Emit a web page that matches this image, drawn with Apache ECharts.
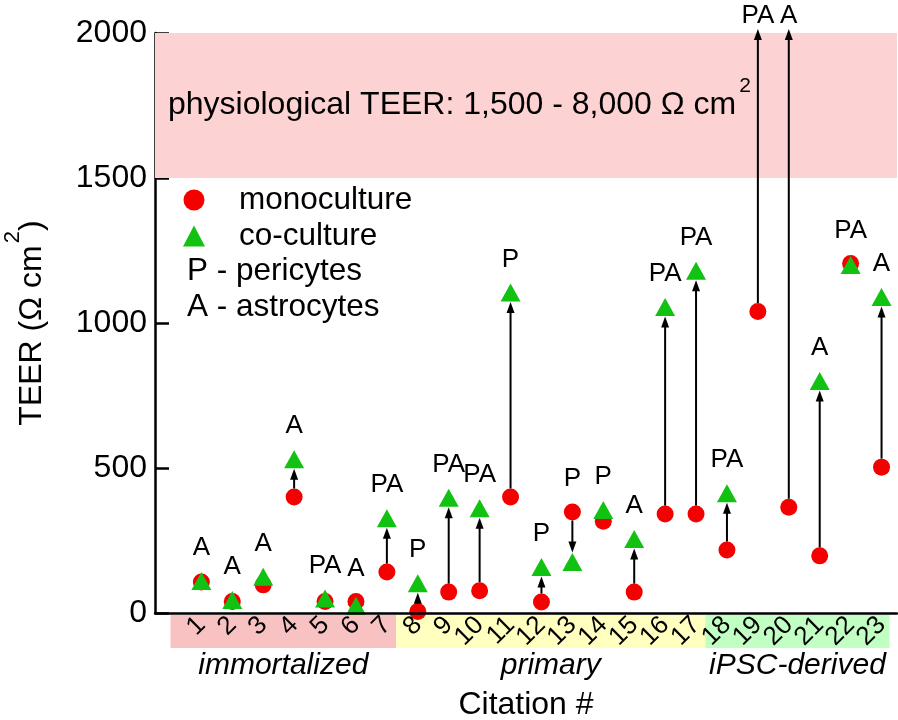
<!DOCTYPE html>
<html><head><meta charset="utf-8">
<script src="https://cdn.jsdelivr.net/npm/echarts@6/dist/echarts.min.js"></script>
<style>html,body{margin:0;padding:0;background:#fff}#c{width:898px;height:720px}</style>
</head><body><div id="c"></div>
<script>
// ---- data ----
const citations = [1,2,3,4,5,6,7,8,9,10,11,12,13,14,15,16,17,18,19,20,21,22,23];
const monoculture = [107,40,97,400,40,40,141,5,72,77,400,38,348,316,72,341,341,217,1040,365,197,1205,503];
const coculture = [110,45,125,530,50,25,327,103,397,361,1105,159,176,355,255,1055,1180,413,null,null,800,1200,1090];
const cellTypes = ['A','A','A','A','PA','A','PA','P','PA','PA','P','P','P','P','A','PA','PA','PA','PA','A','A','PA','A'];
const yTicks = [0,500,1000,1500,2000];
const groupNames = ['immortalized','primary','iPSC-derived'];
const groupFirst = [1,8,18];
const groupLast = [7,17,23];
const physioRange = [1500, 2000];
const physioText = 'physiological TEER: 1,500 - 8,000 Ω cm';
const legendExtra = ['P - pericytes','A - astrocytes'];

// ---- styling ----
const F = '"Liberation Sans", Arial, Helvetica, sans-serif';
const RED = '#f40000', GREEN = '#12c212';
const groupColors = ['#f9c2c2','#ffffc0','#c2ffc2'];
const Y_MIN = yTicks[0], Y_MAX = yTicks[yTicks.length-1];

// category axis: a leading empty slot leaves room before citation 1
const xCategories = [''].concat(citations.map(String));
const X_MIN = -0.5, X_MAX = xCategories.length - 0.5;

// band edges below the axis (in citation units, which equal category indices)
const bandEdges = [groupFirst[0] - 1];
for (let i = 1; i < groupFirst.length; i++) bandEdges.push((groupLast[i-1] + groupFirst[i]) / 2 - 0.2);
bandEdges.push(groupLast[groupLast.length-1] + 0.26);

const chart = echarts.init(document.getElementById('c'), null, {renderer:'canvas'});
const option = {
  animation:false,
  textStyle:{fontFamily:F, color:'#000'},
  grid:[
    {left:155, right:1, top:33, bottom:107, outerBoundsMode:'none', containLabel:false},
    {left:155, right:1, top:615, height:33, outerBoundsMode:'none', containLabel:false}
  ],
  legend:{
    orient:'vertical', left:178, top:177, itemWidth:22, itemHeight:21, itemGap:0,
    selectedMode:false,
    data:[{name:'monoculture', icon:'circle'},{name:'co-culture', icon:'triangle'}],
    textStyle:{fontSize:31.5, lineHeight:36, padding:[0,0,0,29], color:'#000', fontFamily:F}
  },
  xAxis:[
    {type:'category', gridIndex:0, data:xCategories, boundaryGap:true, z:10,
     axisLine:{show:true, onZero:false, lineStyle:{color:'#000', width:2.5}},
     axisTick:{show:false}, splitLine:{show:false},
     axisLabel:{interval:0, rotate:45, fontSize:26, margin:8, color:'#000', fontFamily:F},
     name:'Citation #', nameLocation:'middle', nameGap:76,
     nameTextStyle:{fontSize:32, color:'#000', fontFamily:F, verticalAlign:'top'}
    },
    {type:'value', gridIndex:1, min:X_MIN, max:X_MAX, show:false}
  ],
  yAxis:[
    {type:'value', gridIndex:0, min:Y_MIN, max:Y_MAX, interval:500,
     axisLine:{show:true, onZero:false, lineStyle:{color:'#000', width:2.5}},
     axisTick:{show:true, inside:true, length:14, lineStyle:{color:'#000', width:2.5}},
     splitLine:{show:false},
     axisLabel:{fontSize:32, margin:8, color:'#000', fontFamily:F, formatter:function(v){return String(v);}},
     name:'{a|TEER (Ω cm}{s|2}{a|)}', nameLocation:'middle', nameGap:93,
     nameTextStyle:{rich:{
       a:{fontSize:32, lineHeight:60, color:'#000', fontFamily:F},
       s:{fontSize:22, lineHeight:22, verticalAlign:'top', color:'#000', fontFamily:F, padding:[0,0,0,2]}
     }}
    },
    {type:'value', gridIndex:1, min:0, max:1, show:false}
  ],
  series:[
    {
      name:'monoculture', type:'scatter', symbol:'circle', symbolSize:17, z:3,
      itemStyle:{color:RED, opacity:1},
      data:citations.map((c,i)=>[String(c), monoculture[i]]),
      markArea:{
        silent:true, itemStyle:{color:'#fcd2d2'},
        label:{show:true, position:'insideLeft', distance:13,
          formatter:'{a|' + physioText + '}{s|2}',
          rich:{
            a:{fontSize:32, lineHeight:60, color:'#000', fontFamily:F},
            s:{fontSize:21, lineHeight:22, verticalAlign:'top', color:'#000', fontFamily:F, padding:[0,0,0,3]}
          }},
        data:[[{yAxis:physioRange[0]},{yAxis:physioRange[1]}]]
      }
    },
    {
      name:'co-culture', type:'scatter', symbol:'triangle', symbolSize:[20,18], z:4,
      itemStyle:{color:GREEN, opacity:1},
      data:citations.map((c,i)=> [String(c), coculture[i] == null ? '-' : coculture[i]])
    },
    {
      name:'arrows', type:'custom', coordinateSystem:'cartesian2d', clip:false, z:5, silent:true,
      data:citations.map((c,i)=>[String(c), monoculture[i]]),
      renderItem:function(params, api){
        const i = params.dataIndex;
        const x = String(citations[i]), m = monoculture[i], c = coculture[i];
        const pm = api.coord([x, m]);
        const off = (c == null);
        const pc = off ? api.coord([x, Y_MAX]) : api.coord([x, c]);
        const R = 8.5, H = 9.5;
        const children = [];
        let tipY, labelY;
        if (off) { tipY = pc[1] - 4; labelY = tipY - 13; }
        else {
          labelY = Math.min(pm[1], pc[1]) - 33;
          tipY = pc[1] + (pc[1] < pm[1] ? H : -H);
        }
        const s = tipY > pm[1] ? 1 : -1;
        const startY = pm[1] + s * R;
        if ((tipY - startY) * s > 9) {
          const headBase = tipY - s * 11;
          children.push({type:'line', shape:{x1:pm[0], y1:startY, x2:pm[0], y2:headBase + s*2},
            style:{stroke:'#000', lineWidth:2}});
          children.push({type:'polygon', shape:{points:[[pm[0], tipY],[pm[0]-4, headBase],[pm[0]+4, headBase]]},
            style:{fill:'#000'}});
        }
        children.push({type:'text', x:pm[0], y:labelY,
          style:{text:cellTypes[i], font:'26px ' + F, fill:'#000', align:'center', verticalAlign:'middle'}});
        return {type:'group', children:children};
      }
    },
    {
      name:'groups', type:'custom', xAxisIndex:1, yAxisIndex:1, clip:false, z:1, silent:true,
      data:groupNames.map((n,i)=>[bandEdges[i], bandEdges[i+1]]),
      renderItem:function(params, api){
        const i = params.dataIndex;
        const p0 = api.coord([api.value(0), 1]);
        const p1 = api.coord([api.value(1), 0]);
        return {type:'group', children:[
          {type:'rect', shape:{x:p0[0], y:p0[1], width:p1[0]-p0[0], height:p1[1]-p0[1]},
           style:{fill:groupColors[i]}},
          {type:'text', x:(p0[0]+p1[0])/2, y:p1[1]+3,
           style:{text:groupNames[i], font:'italic 30px ' + F, fill:'#000', align:'center', verticalAlign:'top'}}
        ]};
      }
    }
  ],
  graphic:legendExtra.map((t,k)=>({
    type:'text', x:187, y:271 + k*36, silent:true,
    style:{text:t, font:'31.5px ' + F, fill:'#000', verticalAlign:'middle'}
  }))
};
chart.setOption(option);
</script>
</body></html>
